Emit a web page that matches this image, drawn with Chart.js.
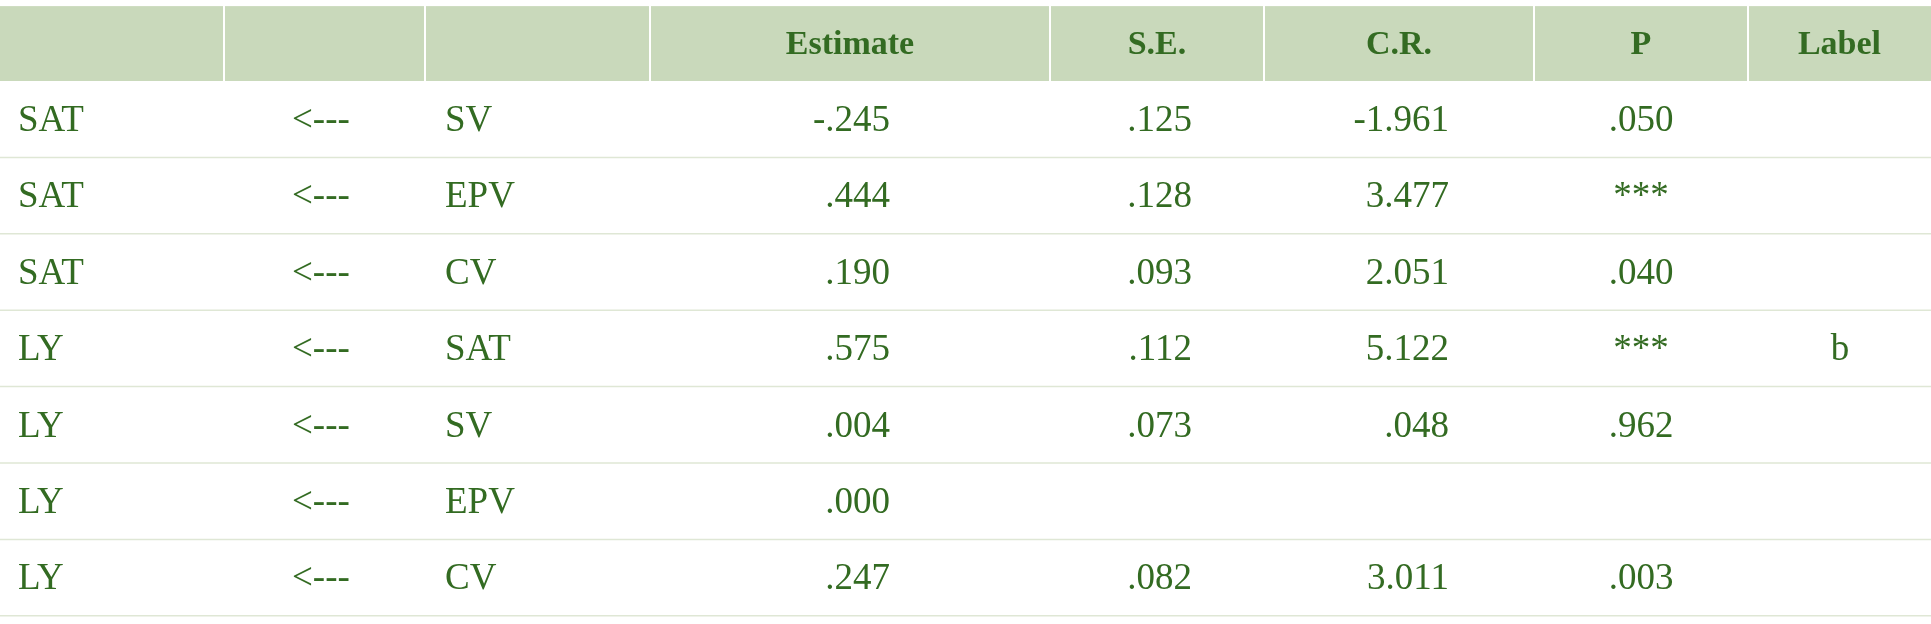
<!DOCTYPE html>
<html>
<head>
<meta charset="utf-8">
<script src="https://cdn.jsdelivr.net/npm/chart.js@4/dist/chart.umd.min.js"></script>
<style>
  html, body { margin: 0; padding: 0; background: #fff; }
  #wrap { width: 1931px; height: 624px; }
</style>
</head>
<body>
<div id="wrap"><canvas id="table_chart"></canvas></div>
<script>
// table data
const headers = ['', '', '', 'Estimate', 'S.E.', 'C.R.', 'P', 'Label'];
const dependent = ['SAT', 'SAT', 'SAT', 'LY', 'LY', 'LY', 'LY'];
const arrows = ['<---', '<---', '<---', '<---', '<---', '<---', '<---'];
const independent = ['SV', 'EPV', 'CV', 'SAT', 'SV', 'EPV', 'CV'];
const estimate = ['-.245', '.444', '.190', '.575', '.004', '.000', '.247'];
const se = ['.125', '.128', '.093', '.112', '.073', '', '.082'];
const cr = ['-1.961', '3.477', '2.051', '5.122', '.048', '', '3.011'];
const pval = ['.050', '***', '.040', '***', '.962', '', '.003'];
const label = ['', '', '', 'b', '', '', ''];

// layout (pixels in x-scale units)
const COL_EDGES = [0, 224, 425, 650, 1050, 1264, 1534, 1748, 1931];
const HEADER_TOP = 0.08; // in row units
const HEADER_H = 1.06;
const GREEN = '#336b22';

const columns = [dependent, arrows, independent, estimate, se, cr, pval, label];
// per column: [align, anchor x]
const bodyAlign = [
  ['left', 18], ['left', 292], ['left', 445], ['right', 890],
  ['right', 1192], ['right', 1449], ['center', 1641], ['center', 1840]
];

const tablePlugin = {
  id: 'tablePlugin',
  afterDraw(chart) {
    const ctx = chart.ctx;
    const x = chart.scales.x, y = chart.scales.y;
    const nRows = dependent.length;
    const rowY = (i) => y.getPixelForValue(HEADER_H + i);
    const top = y.getPixelForValue(HEADER_TOP);
    ctx.save();
    // header background
    ctx.fillStyle = '#c9d9bb';
    ctx.fillRect(x.getPixelForValue(0), top, x.getPixelForValue(1931) - x.getPixelForValue(0), rowY(0) - top);
    // header separators
    ctx.strokeStyle = '#ffffff';
    ctx.lineWidth = 2;
    COL_EDGES.slice(1, -1).forEach((e) => {
      ctx.beginPath();
      ctx.moveTo(x.getPixelForValue(e), top);
      ctx.lineTo(x.getPixelForValue(e), rowY(0));
      ctx.stroke();
    });
    // row lines
    ctx.strokeStyle = '#dfe7d5';
    ctx.lineWidth = 1.5;
    for (let i = 1; i <= nRows; i++) {
      ctx.beginPath();
      ctx.moveTo(x.getPixelForValue(0), rowY(i));
      ctx.lineTo(x.getPixelForValue(1931), rowY(i));
      ctx.stroke();
    }
    // header text
    ctx.fillStyle = GREEN;
    ctx.textBaseline = 'middle';
    ctx.textAlign = 'center';
    ctx.font = 'bold 34px "Liberation Serif", "Times New Roman", serif';
    headers.forEach((h, c) => {
      const cx = (COL_EDGES[c] + COL_EDGES[c + 1]) / 2;
      ctx.fillText(h, x.getPixelForValue(cx), (top + rowY(0)) / 2 + 2);
    });
    // body text
    ctx.font = '37px "Liberation Serif", "Times New Roman", serif';
    columns.forEach((col, c) => {
      ctx.textAlign = bodyAlign[c][0];
      col.forEach((v, r) => {
        ctx.fillText(v, x.getPixelForValue(bodyAlign[c][1]), (rowY(r) + rowY(r + 1)) / 2 + 2);
      });
    });
    ctx.restore();
  }
};

new Chart(document.getElementById('table_chart').getContext('2d'), {
  type: 'scatter',
  data: { datasets: [] },
  options: {
    responsive: true,
    maintainAspectRatio: false,
    animation: false,
    layout: { padding: 0 },
    plugins: { legend: { display: false }, tooltip: { enabled: false } },
    scales: {
      x: { type: 'linear', min: 0, max: 1931, display: false },
      y: { type: 'linear', min: 0, max: 624 / 76.4, reverse: true, display: false }
    }
  },
  plugins: [tablePlugin]
});
</script>
</body>
</html>
